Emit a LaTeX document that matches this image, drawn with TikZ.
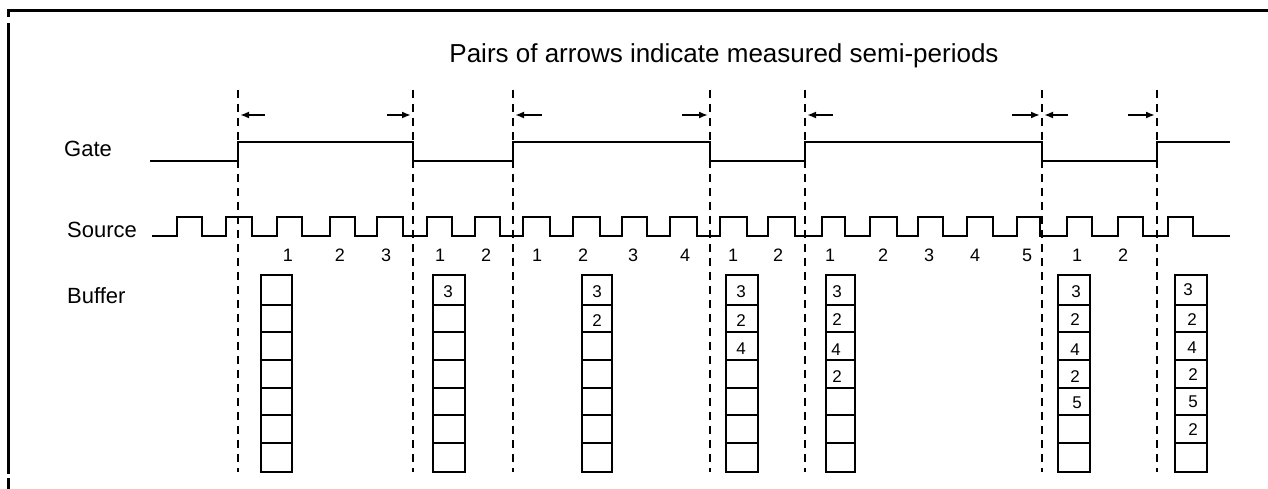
\documentclass[tikz,border=0pt]{standalone}
\usepackage{fontspec}
\setmainfont{Liberation Sans}
\usetikzlibrary{arrows.meta}
\begin{document}
\begin{tikzpicture}[x=1pt,y=-1pt,
  wave/.style={line width=2.2pt, line join=miter},
  sepline/.style={line width=2pt, dash pattern=on 8pt off 6pt},
  meas/.style={line width=1.8pt, -{Latex[length=9pt,width=7pt]}},
  cell/.style={line width=2.2pt},
  frame/.style={line width=3pt},
  lbl/.style={font=\fontsize{22}{26}\selectfont, inner sep=0pt},
  ttl/.style={font=\fontsize{26}{30}\selectfont, inner sep=0pt},
  cnt/.style={font=\fontsize{18}{20}\selectfont, inner sep=0pt},
  val/.style={font=\fontsize{17}{19}\selectfont, inner sep=0pt}]
\useasboundingbox (0,0) rectangle (1268,489);
% frame
\draw[frame] (7,10.5) -- (1268,10.5);
\draw[frame] (8.5,12) -- (8.5,17);
\draw[frame] (8.5,23) -- (8.5,474);
\draw[frame] (8.5,478) -- (8.5,489);
% title and labels
\node[ttl, anchor=base] (title) at (724,63) {Pairs of arrows indicate measured semi-periods};
\node[lbl, anchor=base west] (gate) at (64,157) {Gate};
\node[lbl, anchor=base west] (source) at (67,237) {Source};
\node[lbl, anchor=base west] (buffer) at (67,303) {Buffer};
% dashed separators
\foreach \x [count=\i] in {238,413,513,710,805,1042,1157}{
  \coordinate (s\i t) at (\x,90);
  \coordinate (s\i b) at (\x,472);
  \draw[sepline] (s\i t) -- (s\i b);
}
% gate waveform
\draw[wave] (150,161) -- (238,161) -- (238,142) -- (413,142) -- (413,161) -- (513,161) -- (513,142)
  -- (710,142) -- (710,161) -- (805,161) -- (805,142) -- (1042,142) -- (1042,161) -- (1157,161)
  -- (1157,142) -- (1230,142);
% source waveform
\draw[wave] (152,236) \foreach \r/\f in {177/202,226/252,277/302,330/355,377/403,427/452,475/500,
  523/550,573/600,622/647,670/697,720/747,768/795,822/845,870/897,918/943,967/993,1017/1040,
  1067/1092,1118/1143,1168/1193}{ -- (\r,236) -- (\r,217) -- (\f,217) -- (\f,236)} -- (1230,236);
% measurement arrows
\foreach \t/\h [count=\i] in {265/240,387/411,542/515,682/708,833/807,1012/1040,1068/1044,1128/1155}{
  \coordinate (a\i t) at (\t,115);
  \coordinate (a\i h) at (\h,115);
  \draw[meas] (a\i t) -- (a\i h);
}
% counts
\foreach \x/\t [count=\i] in {288/1,340/2,386/3,440/1,486/2,537/1,583/2,633/3,685/4,733/1,778/2,
  830/1,883/2,929/3,975/4,1027/5,1077/1,1123/2}{
  \node[cnt, anchor=base] (c\i) at (\x,261) {\t};
}
% buffers
\foreach \bx/\bw [count=\b] in {261/31,433/32,582/30,726/32,826/29,1058/32,1175/32}{
  \draw[cell] (\bx,275) rectangle (\bx+\bw,472);
  \foreach \yy in {305,332,360,388,415,443}
    \draw[cell] (\bx,\yy) -- (\bx+\bw,\yy);
}
% buffer values
\foreach \x/\y/\t [count=\i] in {448/292/3,
  597/292/3,597/321/2,
  741/292/3,741/321/2,741/349/4,
  837/292/3,837/320/2,836/350/4,837/377/2,
  1076/292/3,1075/320/2,1075/350/4,1075/377/2,1077/403/5,
  1188/290/3,1192/320/2,1192/348/4,1193/375/2,1193/402/5,1193/430/2}{
  \node[val] (v\i) at (\x,\y) {\t};
}
\end{tikzpicture}
\end{document}
